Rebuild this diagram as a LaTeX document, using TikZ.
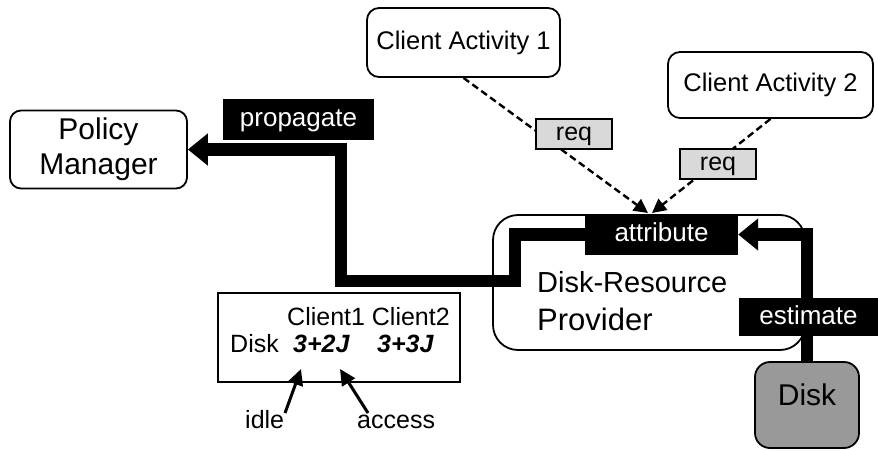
\documentclass[tikz,border=0pt]{standalone}
\usepackage{fontspec}
\setmainfont{Liberation Sans}
\usetikzlibrary{arrows.meta}
\pgfdeclarelayer{bg}
\pgfsetlayers{bg,main}
\definecolor{reqgray}{RGB}{217,217,217}
\definecolor{diskgray}{RGB}{153,153,153}
\newcommand{\fsz}[1]{\fontsize{#1}{#1}\selectfont}
\tikzset{
  rbox/.style={draw, line width=1.8pt, rounded corners=12pt, fill=white, inner sep=0pt,
    text height=18.5pt, text depth=5pt},
  blk/.style={fill=black, text=white, inner sep=0pt, font=\fsz{26},
    text height=19pt, text depth=5pt},
  reqbox/.style={draw, line width=1.2pt, fill=reqgray, inner sep=0pt, font=\fsz{25},
    minimum width=76pt, minimum height=30pt, text height=18pt, text depth=5pt},
  thickflow/.style={line width=12.5pt, miter limit=10, -{Triangle[length=20pt,width=31pt]}},
  dashflow/.style={line width=2.4pt, dash pattern=on 7pt off 4pt, -{Triangle[length=14pt,width=14pt]}},
  thinarrow/.style={line width=3pt, -{Triangle[length=16pt,width=15pt]}},
  txt/.style={inner sep=0pt, anchor=base west}
}
\begin{document}
\begin{tikzpicture}[x=1pt,y=-1pt]
\useasboundingbox (0,0) rectangle (878,450);

% boxes
\node[draw, line width=1.8pt, fill=white, inner sep=0pt, minimum width=177pt, minimum height=78pt,
  align=center, rounded corners=11pt, font=\fontsize{30}{35}\selectfont] (pm) at (98.5,149.5) {Policy\\Manager};
\node[txt, font=\fsz{29}] (provt1) at (537,292) {Disk-Resource};
\node[txt, font=\fsz{31}] (provt2) at (537,330) {Provider};

\node[rbox, minimum width=193pt, minimum height=69pt, font=\fsz{25.5}] (ca1) at (463.5,42.5) {Client Activity 1};
\node[rbox, minimum width=205pt, minimum height=66pt, font=\fsz{25.5}] (ca2) at (770.5,85) {Client Activity 2};

\node[rbox, fill=diskgray, minimum width=104pt, minimum height=86pt, rounded corners=15pt] (disk) at (807,405) {};
\node[inner sep=0pt, anchor=base, font=\fsz{30}] (diskt) at (807,405) {Disk};

% labels on the flows
\node[blk, minimum width=153pt, minimum height=41pt] (attr) at (661.5,234.5) {attribute};
\node[blk, minimum width=151pt, minimum height=41pt] (prop) at (298.5,119.5) {propagate};
\node[blk, minimum width=139pt, minimum height=38pt] (est) at (808.5,317) {estimate};

% provider box and thick flows underneath the labels
\begin{pgfonlayer}{bg}
\node[rbox, minimum width=312pt, minimum height=135pt, rounded corners=25pt] (prov) at (649,282.5) {};
\draw[thickflow] (attr.west) -- (515,234.5) -- (515,281) -- (341,281) |- (pm.east);
\draw[thickflow] (disk.north) |- (attr.east);
\end{pgfonlayer}

% requests
\coordinate (t1) at (648,213);
\coordinate (t2) at (652,213);
\draw[dashflow] (ca1.south) -- (t1);
\draw[dashflow] (ca2.south) -- (t2);
\node[reqbox] (req1) at (574,134) {req};
\node[reqbox] (req2) at (718,164) {req};

% table
\node[draw, line width=1.2pt, minimum width=242pt, minimum height=89pt, inner sep=0pt] (tbl) at (339,337.5) {};
\node[txt, font=\fsz{25}] (hdr) at (287,325) {Client1 Client2};
\node[txt, font=\fsz{25}] (row) at (230,352) {Disk};
\node[txt, font=\fsz{25}\bfseries\itshape] (v1) at (293,352) {3+2J};
\node[txt, font=\fsz{25}\bfseries\itshape] (v2) at (377,352) {3+3J};
\node[txt, font=\fsz{25}] (idle) at (245,428) {idle};
\node[txt, font=\fsz{25}] (acc) at (357,428) {access};
\coordinate (i1) at (285,413);
\coordinate (i2) at (301,369);
\coordinate (a1) at (368,413);
\coordinate (a2) at (340,369);
\draw[thinarrow] (i1) -- (i2);
\draw[thinarrow] (a1) -- (a2);
\end{tikzpicture}
\end{document}
